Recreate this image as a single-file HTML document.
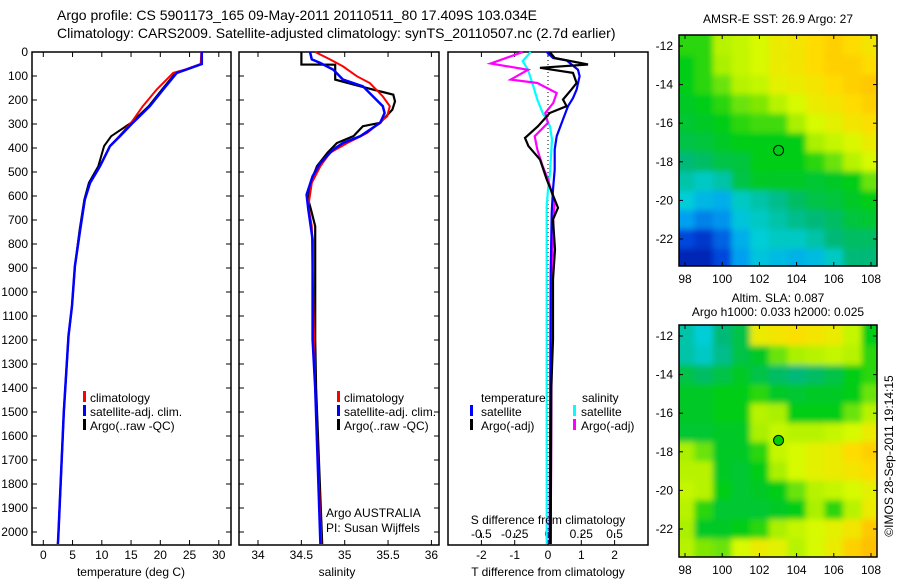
<!DOCTYPE html>
<html><head><meta charset="utf-8">
<style>
html,body{margin:0;padding:0;background:#fff;}
svg{display:block;font-family:"Liberation Sans",sans-serif;}
text{fill:#000;}
</style></head>
<body>
<svg id="fig" width="900" height="580" viewBox="0 0 900 580" xmlns="http://www.w3.org/2000/svg">
<defs>
<clipPath id="cm1"><rect x="679" y="35" width="198" height="231"/></clipPath>
<clipPath id="cm2"><rect x="679" y="325" width="198" height="232"/></clipPath>
<filter id="bl" x="-5%" y="-5%" width="110%" height="110%"><feGaussianBlur stdDeviation="3"/></filter>
</defs>
<text x="57" y="20" font-size="14">Argo profile: CS 5901173_165 09-May-2011 20110511_80 17.409S 103.034E</text>
<text x="57" y="38" font-size="14">Climatology: CARS2009. Satellite-adjusted climatology: synTS_20110507.nc (2.7d earlier)</text>
<g id="g"></g>
</svg>
<script>
// ---- profile data ----
const tDepth = [0,50,73,87,156,226,295,351,392,476,545,615,740,892,1058,1183,1500,2000,2050];
const tClim  = [27.0,26.9,24.3,22.2,19.4,17.0,15.0,13.0,11.4,9.7,8.0,7.1,6.3,5.4,4.9,4.3,3.5,2.6,2.5];
const tSat   = [27.1,27.1,24.5,22.8,20.5,18.2,15.3,13.1,11.4,9.7,8.0,7.1,6.3,5.4,4.9,4.3,3.5,2.6,2.5];
const tArgo  = [27.1,27.1,24.5,22.6,20.3,18.0,15.0,11.6,10.4,9.4,7.8,7.0,6.2,5.4,4.9,4.3,3.5,2.6,2.5];

const sDepthClim = [0,31,60,101,129,185,226,268,337,379,420,476,545,643,726,920,1400,2050];
const sClim      = [34.66,34.83,34.98,35.14,35.29,35.44,35.52,35.49,35.26,35.03,34.83,34.72,34.62,34.58,34.62,34.63,34.66,34.73];
const sDepthSat  = [0,31,46,74,115,143,226,254,295,351,379,406,462,518,594,656,781,1198,1400,2050];
const sSat       = [34.60,34.62,34.72,34.87,34.98,35.21,35.44,35.46,35.41,35.18,34.98,34.87,34.72,34.63,34.56,34.58,34.63,34.63,34.66,34.72];
const sDepthArgo = [0,52,53,115,143,178,206,240,295,309,351,379,420,476,531,615,670,726,1198,1400,2050];
const sArgo      = [34.50,34.50,34.89,34.89,35.18,35.56,35.58,35.55,35.41,35.21,35.10,34.91,34.80,34.68,34.62,34.58,34.62,34.66,34.66,34.67,34.74];

const dtSatDepth = [0,25,35,74,101,157,192,226,281,351,406,490,573,670,920,2050];
const dtSat      = [-0.04,0.15,0.56,0.9,0.95,0.86,0.75,0.6,0.45,0.26,0.2,0.2,0.15,0.11,0.08,0.05];
const dtArgoDepth = [0,25,52,66,87,129,157,198,226,254,309,358,392,448,531,649,698,823,948,1198,1400,2050];
const dtArgo      = [0.05,0.2,1.2,-0.24,0.75,0.86,0.7,0.45,0.56,0.05,-0.3,-0.69,-0.59,-0.24,-0.04,0.3,0.15,0.21,0.15,0.15,0.1,0.08];
const dsArgoDepth = [0,48,74,115,129,171,212,254,295,351,406,476,531,628,698,920,2050];
const dsArgo      = [-0.19,-0.43,-0.15,-0.28,-0.08,0.065,0.04,-0.02,0,-0.1,-0.08,-0.04,0,0.05,0.04,0.03,0.02];
const dsSatDepth = [0,38,74,143,198,254,309,365,504,573,643,1198,2050];
const dsSat      = [-0.13,-0.19,-0.15,-0.11,-0.08,-0.04,0.015,0.03,0.015,0,-0.01,-0.01,-0.01];

const depthTicks = [0,100,200,300,400,500,600,700,800,900,1000,1100,1200,1300,1400,1500,1600,1700,1800,1900,2000];
const tempTicks = [0,5,10,15,20,25,30];
const salTicks = [34,34.5,35,35.5,36];
const salTickLabels = ["34","34.5","35","35.5","36"];
const dtTicks = [-2,-1,0,1,2];
const dsTicks = [-0.5,-0.25,0,0.25,0.5];
const dsTickLabels = ["-0.5","-0.25","0","0.25","0.5"];

// ---- map data (value 0..1 on colour scale), rows lat -12..-23, cols lon 98..108 ----
const mapLons = [98,99,100,101,102,103,104,105,106,107,108];
const mapLats = [-12,-13,-14,-15,-16,-17,-18,-19,-20,-21,-22,-23];
const sstGrid = [
[.62,.62,.7,.72,.75,.8,.82,.85,.88,.85,.82],
[.6,.62,.68,.72,.75,.8,.82,.85,.88,.88,.85],
[.6,.62,.65,.7,.72,.78,.8,.82,.85,.88,.9],
[.58,.6,.62,.65,.66,.7,.75,.8,.82,.85,.88],
[.57,.58,.6,.62,.63,.63,.68,.75,.78,.82,.84],
[.55,.56,.58,.6,.6,.6,.6,.68,.72,.76,.8],
[.5,.52,.55,.56,.6,.6,.6,.62,.65,.7,.75],
[.45,.42,.45,.55,.58,.58,.58,.57,.58,.6,.65],
[.4,.35,.33,.42,.45,.48,.52,.55,.56,.58,.6],
[.3,.25,.28,.38,.42,.45,.48,.5,.52,.56,.57],
[.15,.12,.2,.33,.4,.42,.42,.45,.5,.52,.52],
[.08,.08,.15,.3,.38,.36,.34,.36,.42,.5,.5]];
const slaGrid = [
[.45,.4,.5,.55,.8,.82,.84,.82,.8,.72,.6],
[.45,.42,.48,.55,.58,.65,.68,.7,.72,.7,.62],
[.55,.52,.55,.58,.55,.52,.5,.52,.55,.6,.62],
[.58,.58,.6,.6,.62,.58,.57,.58,.58,.6,.65],
[.58,.58,.6,.6,.7,.68,.6,.6,.6,.65,.7],
[.57,.57,.58,.58,.68,.72,.7,.7,.72,.75,.8],
[.68,.65,.58,.58,.62,.72,.75,.78,.8,.85,.88],
[.7,.7,.58,.57,.6,.68,.75,.78,.8,.82,.85],
[.72,.7,.6,.57,.58,.6,.65,.7,.72,.75,.78],
[.7,.62,.57,.57,.57,.58,.6,.68,.62,.7,.8],
[.68,.58,.58,.6,.62,.68,.72,.75,.78,.82,.9],
[.7,.66,.65,.75,.8,.78,.7,.75,.8,.88,.92]];
const argoLon = [103.03];
const argoLat = [-17.41];
const mapLonTicks = [98,100,102,104,106,108];
const mapLatTicks = [-12,-14,-16,-18,-20,-22];

const NS='http://www.w3.org/2000/svg';
const G=document.getElementById('g');
function mk(tag,attrs,parent){const e=document.createElementNS(NS,tag);for(const k in attrs)e.setAttribute(k,attrs[k]);(parent||G).appendChild(e);return e;}
function txt(x,y,s,size,anchor,parent){const t=mk('text',{x:x,y:y,'font-size':size||12,'text-anchor':anchor||'start'},parent);t.textContent=s;return t;}

const yD = d => 52 + d*0.24;
const xT = t => 43.3 + t*5.85;
const xS = s => 258 + (s-34)*86.7;
const xDT = v => 548 + v*33.3;
const xDS = v => 548 + v*133.2;
const BOT=545;

function panel(x0,x1,name){
  const r=mk('rect',{x:x0,y:52,width:x1-x0,height:BOT-52,fill:'none',stroke:'#000','stroke-width':1.5});
  
  
  depthTicks.forEach(d=>{
    mk('line',{x1:x0,x2:x0+5,y1:yD(d),y2:yD(d),stroke:'#000'});
    mk('line',{x1:x1-5,x2:x1,y1:yD(d),y2:yD(d),stroke:'#000'});
  });
}
function line(xs,ds,fx,color,w,name){
  const pts=xs.map((v,i)=>fx(v).toFixed(1)+','+yD(ds[i]).toFixed(1)).join(' ');
  const p=mk('polyline',{points:pts,fill:'none',stroke:color,'stroke-width':w,'stroke-linejoin':'miter'});
  
  
}
function xticks(ticks,labels,fx,x0,x1,ly){
  ticks.forEach((t,i)=>{
    const x=fx(t);
    mk('line',{x1:x,x2:x,y1:BOT-5,y2:BOT,stroke:'#000'});
    mk('line',{x1:x,x2:x,y1:52,y2:57,stroke:'#000'});
    const l=txt(x,ly,labels[i],12,'middle');
    
    
  });
}
function legendBar(x,y,color){mk('rect',{x:x,y:y-10,width:3,height:11,fill:color});}

// Panel 1 temperature
panel(32,231,'temperature-panel');
depthTicks.forEach(d=>{const l=txt(28,yD(d)+4,String(d),12,'end');
  
  });
xticks(tempTicks,tempTicks.map(String),xT,32,231,559);
line(tArgo,tDepth,xT,'#000',2,'temp-argo-line');
line(tClim,tDepth,xT,'#f00',2,'temp-climatology-line');
line(tSat,tDepth,xT,'#00f',2.5,'temp-satellite-line');
legendBar(83,401,'#f00');txt(90,402,'climatology',12);
legendBar(83,415,'#00f');txt(90,416,'satellite-adj. clim.',12);
legendBar(83,429,'#000');txt(90,430,'Argo(..raw -QC)',12);
txt(131,576,'temperature (deg C)',12,'middle');

// Panel 2 salinity
panel(239,439,'salinity-panel');
xticks(salTicks,salTickLabels,xS,239,439,559);
line(sArgo,sDepthArgo,xS,'#000',2.2,'salinity-argo-line');
line(sClim,sDepthClim,xS,'#f00',2,'salinity-climatology-line');
line(sSat,sDepthSat,xS,'#00f',2.5,'salinity-satellite-line');
legendBar(337,401,'#f00');txt(344,402,'climatology',12);
legendBar(337,415,'#00f');txt(344,416,'satellite-adj. clim.',12);
legendBar(337,429,'#000');txt(344,430,'Argo(..raw -QC)',12);
txt(326,517,'Argo AUSTRALIA',12);
txt(326,532,'PI: Susan Wijffels',12);
txt(337,576,'salinity',12,'middle');

// Panel 3 differences
mk('rect',{x:448,y:52,width:200,height:BOT-52,fill:'none',stroke:'#000','stroke-width':1.5});
dtTicks.forEach(t=>{const x=xDT(t);mk('line',{x1:x,x2:x,y1:BOT-5,y2:BOT,stroke:'#000'});mk('line',{x1:x,x2:x,y1:52,y2:57,stroke:'#000'});
  txt(x,559,String(t),12,'middle');});
dsTicks.forEach((t,i)=>{const x=xDS(t);mk('line',{x1:x,x2:x,y1:BOT-12,y2:BOT-7,stroke:'#000'});
  txt(x,538,dsTickLabels[i],12,'middle');});
mk('line',{x1:548,x2:548,y1:52,y2:BOT,stroke:'#000','stroke-dasharray':'1,3'});
line(dsSat,dsSatDepth,xDS,'#0ff',2.2,'sdiff-satellite-line');
line(dsArgo,dsArgoDepth,xDS,'#f0f',2.2,'sdiff-argo-line');
line(dtSat,dtSatDepth,xDT,'#00f',2.2,'tdiff-satellite-line');
line(dtArgo,dtArgoDepth,xDT,'#000',2.2,'tdiff-argo-line');
txt(481,402,'temperature',12);txt(582,402,'salinity',12);
legendBar(470,415,'#00f');txt(481,416,'satellite',12);
legendBar(470,429,'#000');txt(481,430,'Argo(-adj)',12);
legendBar(573,415,'#0ff');txt(581,416,'satellite',12);
legendBar(573,429,'#f0f');txt(581,430,'Argo(-adj)',12);
txt(548,524,'S difference from climatology',12,'middle');
txt(548,576,'T difference from climatology',12,'middle');

// ---- maps ----
const cstops=[[0,[0,0,140]],[.15,[0,70,220]],[.3,[0,160,240]],[.4,[0,205,215]],[.5,[0,185,120]],[.6,[0,205,20]],[.68,[170,240,0]],[.75,[215,250,0]],[.85,[255,220,0]],[1,[255,160,0]]];
function cmap(v){for(let i=1;i<cstops.length;i++){if(v<=cstops[i][0]){const a=cstops[i-1],b=cstops[i];const f=(v-a[0])/(b[0]-a[0]);
  const c=a[1].map((q,k)=>Math.round(q+(b[1][k]-q)*f));return 'rgb('+c.join(',')+')';}}return 'rgb(255,160,0)';}
function drawMap(grid,top,bottom,clip,name,filled){
  const x0=679,x1=877;
  const lx=l=>685+(l-98)*18.6;
  const ly=l=>top+11+(-12-l)*19.3;
  const wrap=mk('g',{'clip-path':'url(#'+clip+')'});
  
  
  mk('rect',{x:x0,y:top,width:x1-x0,height:bottom-top,fill:cmap(grid[0][0])},wrap);
  const cells=mk('g',{filter:'url(#bl)'},wrap);
  grid.forEach((row,r)=>row.forEach((v,c)=>{
    const cx=lx(mapLons[c]),cy=ly(mapLats[r]);
    const pad=(c===0||c===row.length-1||r===0||r===grid.length-1)?12:0;
    mk('rect',{x:cx-9.3-(c===0?pad:0),y:cy-9.65-(r===0?pad:0),width:18.8+(c===0||c===row.length-1?pad:0),height:19.5+(r===0||r===grid.length-1?pad:0),fill:cmap(v)},cells);
  }));
  mk('rect',{x:x0,y:top,width:x1-x0,height:bottom-top,fill:'none',stroke:'#000','stroke-width':1.5});
  mapLonTicks.forEach(l=>{const x=lx(l);mk('line',{x1:x,x2:x,y1:bottom,y2:bottom-4,stroke:'#000'});mk('line',{x1:x,x2:x,y1:top,y2:top+4,stroke:'#000'});
    txt(x,bottom+17,String(l),12,'middle');});
  mapLatTicks.forEach(l=>{const y=ly(l);mk('line',{x1:x0,x2:x0+4,y1:y,y2:y,stroke:'#000'});mk('line',{x1:x1-4,x2:x1,y1:y,y2:y,stroke:'#000'});
    txt(673,y+4,String(l),12,'end');});
  const m=mk('circle',{cx:lx(argoLon[0]),cy:ly(argoLat[0]),r:5,fill:filled?'#00d000':'none',stroke:'#000','stroke-width':1});
  
  
}
txt(778,23,'AMSR-E SST: 26.9 Argo: 27',12,'middle');
drawMap(sstGrid,35,266,'cm1','sst-map',false);
txt(778,302,'Altim. SLA: 0.087',12,'middle');
txt(778,316,'Argo h1000: 0.033 h2000: 0.025',12,'middle');
drawMap(slaGrid,325,557,'cm2','sla-map',true);
const cr=txt(0,0,'©IMOS 28-Sep-2011 19:14:15',12,'middle');
cr.setAttribute('transform','translate(893,456) rotate(-90)');


</script>
</body></html>
